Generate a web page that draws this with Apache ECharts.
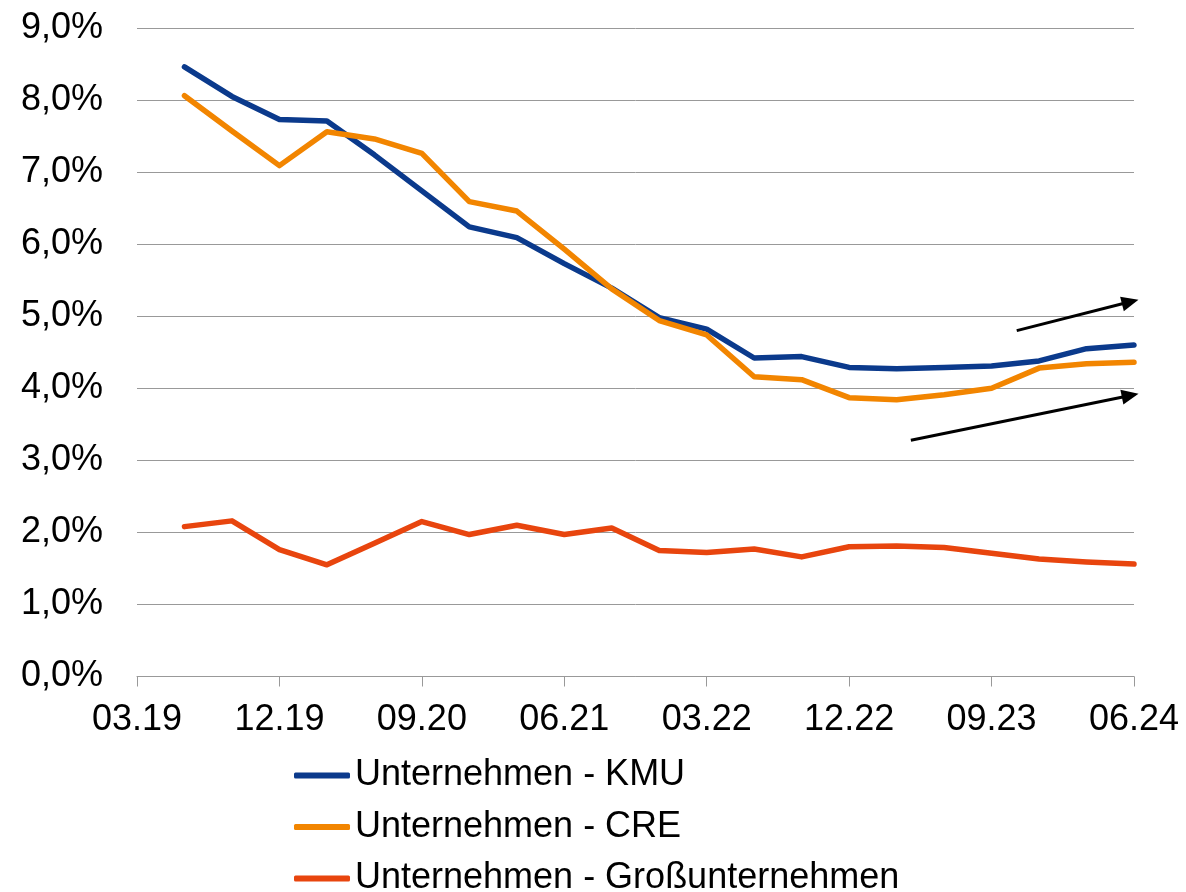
<!DOCTYPE html>
<html>
<head>
<meta charset="utf-8">
<title>Unternehmen</title>
<script src="https://cdn.jsdelivr.net/npm/echarts@6/dist/echarts.min.js"></script>
<style>
  html, body { margin: 0; padding: 0; background: #fff; }
  #chart { width: 1186px; height: 892px; }
</style>
</head>
<body>
<div id="chart"></div>
<script>
// Quartale, 03.19 ist der Achsenursprung, Daten ab 06.19
const quarters = ['03.19', '06.19', '09.19', '12.19', '03.20', '06.20', '09.20', '12.20',
  '03.21', '06.21', '09.21', '12.21', '03.22', '06.22', '09.22', '12.22',
  '03.23', '06.23', '09.23', '12.23', '03.24', '06.24']

const kmu = [8.46, 8.05, 7.73, 7.71, 7.24, 6.74, 6.24, 6.09, 5.73, 5.39, 4.98,
  4.82, 4.42, 4.44, 4.29, 4.27, 4.29, 4.31, 4.38, 4.55, 4.60]
const cre = [8.06, 7.57, 7.09, 7.56, 7.46, 7.26, 6.59, 6.46, 5.93, 5.38, 4.94,
  4.74, 4.16, 4.12, 3.87, 3.84, 3.91, 4.00, 4.28, 4.34, 4.36]
const gross = [2.08, 2.16, 1.76, 1.55, 1.85, 2.15, 1.97, 2.10, 1.97, 2.06, 1.75,
  1.72, 1.77, 1.66, 1.80, 1.81, 1.79, 1.71, 1.63, 1.59, 1.56]

// Trendpfeile (Start / Ende in Quartalsindex und Prozent)
const trendArrows = [
  [[18.53, 4.80], [20.92, 5.20]],
  [[16.30, 3.28], [20.92, 3.90]]
]

const font = "'Liberation Sans', Arial, sans-serif"

// Werte an Quartalsindex koppeln (erster Punkt = 06.19)
function toPoints (values) {
  return values.map((v, i) => [i + 1, v])
}

const chart = echarts.init(document.getElementById('chart'))
chart.setOption({
  animation: false,
  textStyle: { fontFamily: font },
  grid: {
    left: 137,
    right: 52,
    top: 28,
    bottom: 215.5,
    containLabel: false
  },
  legend: {
    orient: 'vertical',
    left: 294,
    top: 757,
    height: 200,
    padding: 0,
    itemWidth: 56,
    itemHeight: 6,
    itemGap: 14.5,
    icon: 'roundRect',
    textStyle: { fontSize: 36, lineHeight: 37, color: '#000', fontFamily: font },
    data: ['Unternehmen - KMU', 'Unternehmen - CRE', 'Unternehmen - Großunternehmen']
  },
  xAxis: {
    type: 'value',
    min: 0,
    max: 21,
    interval: 3,
    axisLine: { show: true, lineStyle: { color: '#999', width: 1 } },
    axisTick: { show: true, length: 10, lineStyle: { color: '#999' } },
    splitLine: { show: false },
    axisLabel: {
      fontSize: 36,
      color: '#000',
      margin: 26,
      fontFamily: font,
      formatter: (value) => quarters[value]
    }
  },
  yAxis: {
    type: 'value',
    min: 0,
    max: 9,
    interval: 1,
    axisLine: { show: false },
    axisTick: { show: false },
    splitLine: { lineStyle: { color: '#999', width: 1 } },
    axisLabel: {
      fontSize: 36,
      color: '#000',
      margin: 34,
      fontFamily: font,
      formatter: (value) => value.toFixed(1).replace('.', ',') + '%'
    }
  },
  series: [
    {
      name: 'Unternehmen - KMU',
      type: 'line',
      symbol: 'none',
      data: toPoints(kmu),
      itemStyle: { color: '#0b3a8c' },
      lineStyle: { width: 5.5, color: '#0b3a8c', cap: 'round', join: 'round' },
      markLine: {
        silent: true,
        symbol: ['none', 'triangle'],
        symbolSize: [15, 17],
        label: { show: false },
        itemStyle: { color: '#000' },
        lineStyle: { color: '#000', width: 3, type: 'solid' },
        emphasis: { disabled: true },
        data: trendArrows.map(a => [{ coord: a[0] }, { coord: a[1] }])
      }
    },
    {
      name: 'Unternehmen - CRE',
      type: 'line',
      symbol: 'none',
      data: toPoints(cre),
      itemStyle: { color: '#f28500' },
      lineStyle: { width: 5.5, color: '#f28500', cap: 'round', join: 'round' }
    },
    {
      name: 'Unternehmen - Großunternehmen',
      type: 'line',
      symbol: 'none',
      data: toPoints(gross),
      itemStyle: { color: '#e8450e' },
      lineStyle: { width: 5.5, color: '#e8450e', cap: 'round', join: 'round' }
    }
  ]
})
</script>
</body>
</html>
